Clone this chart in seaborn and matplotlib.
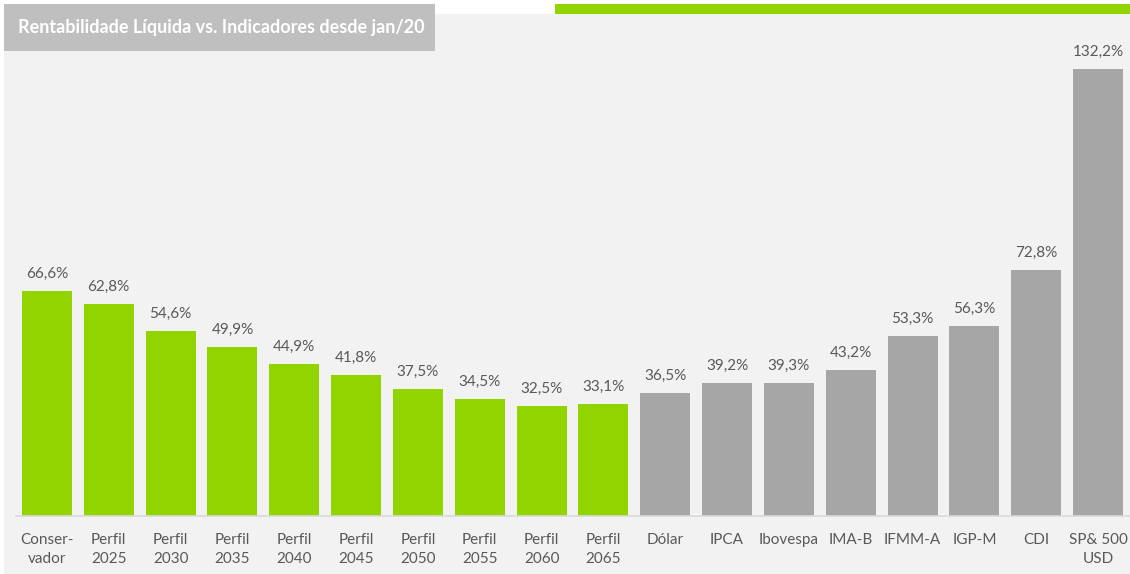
import matplotlib
matplotlib.use("Agg")
import matplotlib.pyplot as plt
import seaborn as sns
import pandas as pd
from matplotlib.patches import Rectangle

categories = ["Conser-\nvador", "Perfil\n2025", "Perfil\n2030", "Perfil\n2035", "Perfil\n2040",
              "Perfil\n2045", "Perfil\n2050", "Perfil\n2055", "Perfil\n2060", "Perfil\n2065",
              "Dólar", "IPCA", "Ibovespa", "IMA-B", "IFMM-A", "IGP-M", "CDI", "SP& 500\nUSD"]
values = [66.6, 62.8, 54.6, 49.9, 44.9, 41.8, 37.5, 34.5, 32.5, 33.1,
          36.5, 39.2, 39.3, 43.2, 53.3, 56.3, 72.8, 132.2]
groups = ["plan"] * 10 + ["index"] * 8
title = "Rentabilidade Líquida vs. Indicadores desde jan/20"

GREEN = "#92d400"
GRAY = "#a6a6a6"
TXT = "#595959"

sns.set_theme(style="white")
plt.rcParams['font.family'] = ['Lato', 'DejaVu Sans']

W, H = 1130, 574
fig = plt.figure(figsize=(W / 100, H / 100), dpi=100)
fig.patch.set_facecolor("white")

# panel background
fig.patches.append(Rectangle((4 / W, 0), (W - 4) / W, (H - 14) / H, transform=fig.transFigure,
                             facecolor="#f2f2f2", edgecolor="none", zorder=-10))
# green top bar
fig.patches.append(Rectangle((555 / W, 1 - 14 / H), (W - 555) / W, 10 / H, transform=fig.transFigure,
                             facecolor=GREEN, edgecolor="none", zorder=-5))
# title box
fig.patches.append(Rectangle((4 / W, 1 - 51 / H), (435 - 4) / W, 47 / H, transform=fig.transFigure,
                             facecolor="#bfbfbf", edgecolor="none", zorder=-5))
fig.text(18 / W, 1 - 28 / H, title, color="white", fontsize=13, fontweight="bold",
         va="center", ha="left", family=['Lato', 'DejaVu Sans'])

ax = fig.add_axes([16 / W, 1 - 516 / H, (1129 - 16) / W, (516 - 14) / H])
ax.set_facecolor("none")

df = pd.DataFrame({"cat": categories, "val": values, "grp": groups})
palette = {c: (GREEN if g == "plan" else GRAY) for c, g in zip(categories, groups)}
sns.barplot(data=df, x="cat", y="val", hue="cat", palette=palette, dodge=False,
            legend=False, width=0.81, ax=ax, saturation=1, linewidth=0)

for i, v in enumerate(values):
    ax.text(i, v + 3.0, f"{v:.1f}%".replace(".", ","), ha="center", va="bottom",
            fontsize=11, color=TXT)

ax.set_xlim(-0.5, 17.5)
ax.set_ylim(0, 148.5)
ax.set_xlabel("")
ax.set_ylabel("")
ax.set_yticks([])
for s in ["top", "right", "left"]:
    ax.spines[s].set_visible(False)
ax.spines["bottom"].set_color("#d9d9d9")
ax.spines["bottom"].set_linewidth(1.2)
ax.tick_params(axis="x", length=0, pad=12, labelsize=11, labelcolor=TXT)
for lab in ax.get_xticklabels():
    lab.set_linespacing(1.5)

fig.savefig("out.png", dpi=100)
